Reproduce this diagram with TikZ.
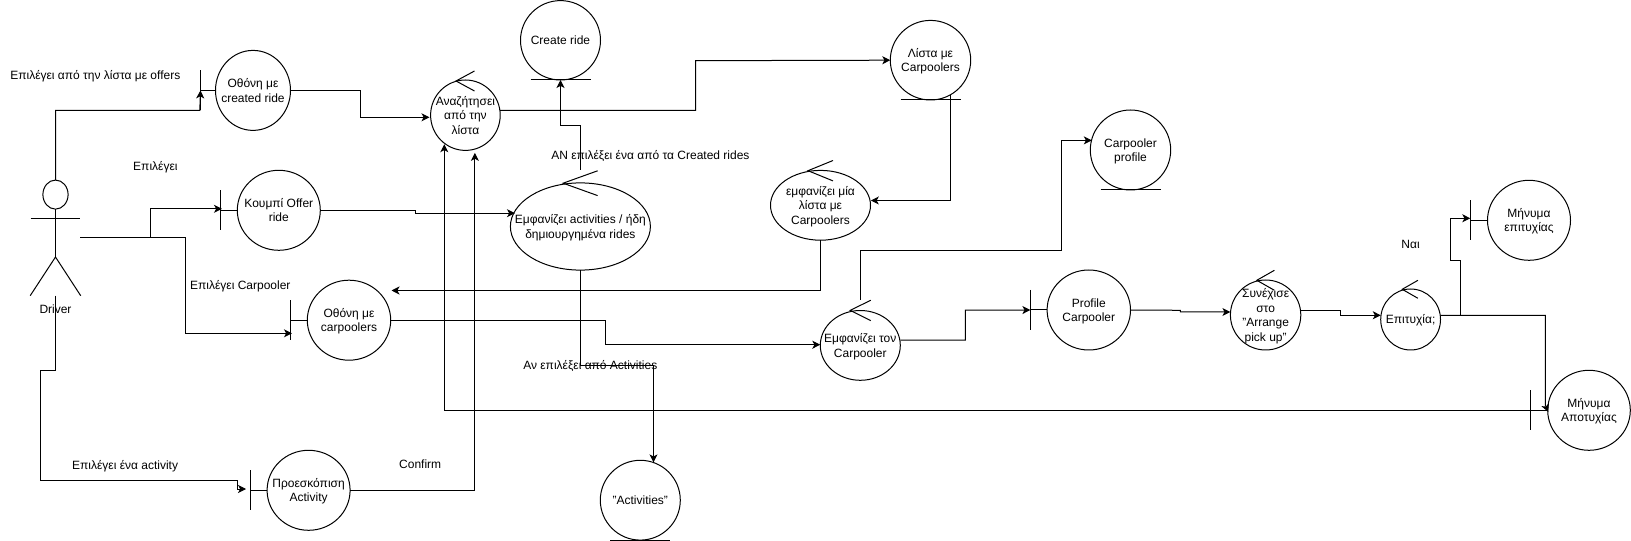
\documentclass[tikz,border=0pt]{standalone}
\usepackage{fontspec}
\setmainfont{Liberation Sans}
\usetikzlibrary{arrows.meta,shapes.geometric,calc}
\tikzset{
  wire/.style={line width=0.75pt,draw=black,line join=miter},
  arr/.style={wire,-{Stealth[length=6pt,width=6pt,inset=1.6pt]}},
  oval/.style 2 args={ellipse,draw=black,line width=0.75pt,minimum width=#1*0.75pt,minimum height=#2*0.75pt,inner sep=-45pt,outer sep=0pt,font=\fontsize{9}{10.9}\selectfont},
  note/.style={inner sep=0pt,align=center,font=\fontsize{9}{10.9}\selectfont}
}
\newcommand{\ovaltext}[1]{\raisebox{-1.1pt}[\height][\depth]{\begin{tabular}{@{}c@{}}#1\end{tabular}}}
\newcommand{\boundaryobj}[7]{% name, bar x, cx, cy, w, h, text
  \node[oval={#5}{#6}] (#1) at (#3,#4) {\ovaltext{#7}};
  \coordinate (#1bar) at (#2,#4);
  \draw[wire] ($(#1bar)+(0,-20)$) -- ($(#1bar)+(0,20)$);
  \draw[wire] (#1bar) -- (#1.west);
}
\newcommand{\entityobj}[6]{% name, cx, cy, w, h, text
  \node[oval={#4}{#5}] (#1) at (#2,#3) {\ovaltext{#6}};
  \draw[wire] ($(#1.south)+(-30,0)$) -- ($(#1.south)+(30,0)$);
}
\newcommand{\controlobj}[9]{% name, cx, cy, w, h, tipx, tipy, armdx, armdy
  \node[oval={#4}{#5}] (#1) at (#2,#3) {\ovaltext{\controltext}};
  \coordinate (#1tip) at (#6,#7);
  \draw[wire] ($(#1tip)+(#8,-#9)$) -- (#1tip) -- ($(#1tip)+(#8,#9)$);
}
\begin{document}
\begin{tikzpicture}[x=0.75pt,y=-0.75pt]
\path[fill=white,use as bounding box] (0,0) rectangle (1631,541);

% actor
\node[ellipse,draw=black,line width=0.75pt,minimum width=18.9pt,minimum height=21.8pt,inner sep=0pt,outer sep=0pt] (head) at (55.5,194.6) {};
\coordinate (hip) at (55.5,257);
\coordinate (handl) at (30.6,218.8);
\coordinate (handr) at (80.4,218.8);
\coordinate (footl) at (30.2,295.7);
\coordinate (footr) at (80.7,295.7);
\coordinate (drv) at (80.4,237.8);
\draw[wire] (head.south) -- (hip);
\draw[wire] (handl) -- (handr);
\draw[wire] (footl) -- (hip) -- (footr);
\node[note] (driver) at (55.5,309.5) {Driver};

% boundary objects
\boundaryobj{offers}{200.5}{253}{90.4}{75}{80}{Οθόνη με\\created ride}
\boundaryobj{offer}{220.4}{278.8}{210.3}{83}{80}{Κουμπί Offer\\ride}
\boundaryobj{carps}{290.5}{349}{320.2}{83.4}{80}{Οθόνη με\\carpoolers}
\boundaryobj{prev}{250.7}{308.6}{490.3}{83}{80}{Προεσκόπιση\\Activity}
\boundaryobj{prof}{1030.4}{1088.8}{310}{83.4}{80}{Profile\\Carpooler}
\boundaryobj{succ}{1470.3}{1529}{220.3}{83}{80}{Μήνυμα\\επιτυχίας}
\boundaryobj{fail}{1530.4}{1589}{410.3}{82.6}{80}{Μήνυμα\\Αποτυχίας}

% entity objects
\entityobj{create}{560.5}{40.3}{80}{79.4}{Create ride}
\entityobj{lista}{930.5}{60.2}{80.4}{79.6}{Λίστα με\\Carpoolers}
\entityobj{cprof}{1130.5}{150}{80.4}{80}{Carpooler\\profile}
\entityobj{acts}{640.3}{500.2}{80}{79.8}{"Activities"}

% control objects
\def\controltext{Αναζήτησει\\από την\\λίστα}
\controlobj{search}{465.4}{115.2}{69.6}{70.4}{456}{81}{18.5}{10}
\def\controltext{Εμφανίζει activities / ήδη\\δημιουργημένα rides}
\controlobj{show}{580.4}{226.5}{140}{87.2}{563.1}{183.2}{34.5}{12.4}
\def\controltext{εμφανίζει μία\\λίστα με\\Carpoolers}
\controlobj{showl}{820.5}{205.3}{100}{69.8}{808}{170.7}{25}{10.2}
\def\controltext{Εμφανίζει τον\\Carpooler}
\controlobj{showc}{860.3}{345.4}{80}{69.8}{850.2}{310.4}{20.6}{10.2}
\def\controltext{Συνέχισε\\στο\\"Arrange\\pick up"}
\controlobj{cont}{1265.6}{315}{70.4}{70}{1256.8}{280.3}{17.6}{10}
\def\controltext{Επιτυχία;}
\controlobj{ok}{1410.6}{319.5}{59.8}{61}{1402.2}{289.3}{15.7}{9}

% connectors
\draw[arr] (head.north) -- (55.5,110.4) -- (199.8,110.4) -- (offersbar);
\draw[arr] (drv) -- (150.4,237.8) -- (150.4,208.8) -- (222,208.8);
\draw[arr] (drv) -- (185.6,237.8) -- (185.6,333.3) -- (292,333.3);
\draw[arr] (55.5,295.7) -- (55.5,370.3) -- (40.6,370.3) -- (40.6,480.3) -- (237.3,480.3) -- (237.3,489) -- (246,489);
\draw[arr] (prev.east) -- (474.9,490.3) -- (474.9,152.9);
\draw[arr] (offers.east) -- (360.5,90.4) -- (360.5,117.3) -- (429.5,117.3);
\draw[arr] (failbar) -- (444.3,410.3) -- (444.3,144.2);
\draw[arr] (search.east |- 0,110.4) -- (695.6,110.4) -- (695.6,60.7) -- (lista.west);
\draw[arr] (580.4,170) -- (580.4,125.3) -- (560.5,125.3) -- (create.south);
\draw[arr] (offer.east) -- (415.6,210.3) -- (415.6,213.2) -- (515,213.2);
\draw[arr] (950.4,95) -- (950.4,200.5) -- (870.8,200.5);
\draw[arr] (showl.south) -- (820.5,290.5) -- (391.5,290.5);
\draw[arr] (carps.east) -- (605.2,320.2) -- (605.2,344.7) -- (showc.west |- 0,344.7);
\draw[arr] (show.south) -- (580.4,365.4) -- (653.5,365.4) -- (653.5,462.4);
\draw[arr] (860.5,300) -- (860.5,250.5) -- (1061.4,250.5) -- (1061.4,140.4) -- (1091.8,140.4);
\draw[arr] (showc.east |- 0,340.2) -- (965.4,340.2) -- (965.4,310.2) -- (profbar);
\draw[arr] (prof.east) -- (1180.3,310.3) -- (1180.3,312) -- (cont.west |- 0,312);
\draw[arr] (cont.east |- 0,310.3) -- (1340.6,310.3) -- (1340.6,315.3) -- (1380.8,315.3);
\draw[arr] (1440.3,315.3) -- (1545.3,315.3) -- (1545.3,405) -- (1548.2,412);
\draw[arr] (1460.4,315.3) -- (1460.4,260.3) -- (1450.4,260.3) -- (1450.4,218.3) -- (1470.3,218.3);

% labels
\node[note] (l1) at (95.3,76.6) {Επιλέγει από την λίστα με offers};
\node[note] (l2) at (155.4,167) {Επιλέγει};
\node[note] (l3) at (240.3,286.7) {Επιλέγει Carpooler};
\node[note] (l4) at (125.1,466.3) {Επιλέγει ένα activity};
\node[note] (l5) at (420.2,464.3) {Confirm};
\node[note] (l6) at (650.4,156.1) {ΑΝ επιλέξει ένα από τα Created rides};
\node[note] (l7) at (590.3,366) {Αν επιλέξει από Activities};
\node[note] (l8) at (1410.6,244.2) {Ναι};
\end{tikzpicture}
\end{document}
